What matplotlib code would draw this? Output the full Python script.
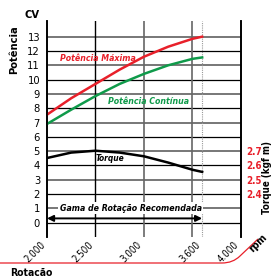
import matplotlib
matplotlib.use("Agg")
import matplotlib.pyplot as plt
from matplotlib.path import Path
from matplotlib.patches import PathPatch

plt.rcParams['font.family'] = ['DejaVu Sans']
plt.rcParams['font.stretch'] = 'condensed'

# data
rpm = [2000, 2250, 2500, 2750, 3000, 3250, 3500, 3600]
pot_max = [7.55, 8.7, 9.7, 10.7, 11.6, 12.3, 12.85, 13.0]
pot_cont = [6.9, 7.9, 8.85, 9.7, 10.4, 11.0, 11.45, 11.55]
torque = [2.652, 2.69, 2.703, 2.69, 2.664, 2.62, 2.57, 2.555]
cv_ticks = list(range(0, 14))
torque_ticks = [2.4, 2.5, 2.6, 2.7]
rpm_ticks = [2000, 2500, 3000, 3600, 4000]
rpm_labels = ['2.000', '2.500', '3.000', '3.600', '4.000']

fig = plt.figure(figsize=(2.72, 2.77), dpi=100)
ax = fig.add_axes([0.1728, 0.1444, 0.713, 0.780])
ax.set_xlim(2000, 4000)
ax.set_ylim(-1, 14.1)

# grid lines
for v in range(0, 14):
    if v % 2 == 0:
        ax.axhline(v, color='black', lw=0.9, zorder=1)
    else:
        ax.axhline(v, color='#777777', lw=1.4, zorder=1)
ax.axvline(2500, color='black', lw=1.0, zorder=1)
ax.axvline(3000, color='#666666', lw=1.2, zorder=1)
ax.axvline(3500, color='#666666', lw=1.2, zorder=1)
ax.axvline(3600, color='#999999', lw=0.8, ls=(0, (1, 1)), zorder=1)

ax.plot(rpm, pot_max, color='#e8202a', lw=1.8, zorder=3)
ax.plot(rpm, pot_cont, color='#0f9a4a', lw=1.8, zorder=3)

ax2 = ax.twinx()
ax2.set_ylim(2.2 - 0.1, 2.2 + 1.41)
ax2.plot(rpm, torque, color='black', lw=1.8, zorder=3)
ax2.set_yticks(torque_ticks)
ax2.set_yticklabels([f'{t:.1f}' for t in torque_ticks], color='#e8202a',
                    fontsize=7, fontweight='bold')
ax2.tick_params(axis='y', length=0, pad=4)
for a in (ax, ax2):
    a.spines['top'].set_visible(False)
    a.spines['bottom'].set_visible(False)
    a.spines['left'].set_linewidth(1.2)
    a.spines['right'].set_linewidth(1.2)

ax.set_yticks(cv_ticks)
ax.set_yticklabels([str(v) for v in cv_ticks], fontsize=8)
ax.tick_params(axis='y', length=0, pad=5)
ax.set_xticks(rpm_ticks)
ax.set_xticklabels(rpm_labels, rotation=45, ha='right', fontsize=7)
ax.tick_params(axis='x', length=0, pad=2)

# labels in the plot
ax.text(2130, 11.5, 'Potência Máxima', color='#e8202a', fontsize=6.3,
        fontweight='bold', style='italic', va='center', zorder=4)
ax.text(2630, 8.5, 'Potência Contínua', color='#0f9a4a', fontsize=6.3,
        fontweight='bold', style='italic', va='center', zorder=4)
ax.text(2500, 4.5, 'Torque', color='black', fontsize=6,
        fontweight='bold', style='italic', va='center', zorder=4)
ax.text(2130, 1, 'Gama de Rotação Recomendada', color='black', fontsize=6.3,
        fontweight='bold', style='italic', va='center', zorder=4,
        bbox=dict(facecolor='white', edgecolor='none', pad=1))
ax.annotate('', xy=(2000, 0.3), xytext=(3600, 0.3),
            arrowprops=dict(arrowstyle='<|-|>', color='black', lw=1.4,
                            mutation_scale=9, shrinkA=0, shrinkB=0), zorder=4)

fig.text(32 / 272, 1 - 15 / 277, 'CV', fontsize=8, fontweight='bold',
         ha='center', va='center')
fig.text(14 / 272, 1 - 50 / 277, 'Potência', fontsize=8, fontweight='bold',
         ha='center', va='center', rotation=90)
fig.text(267 / 272, 1 - 178 / 277, 'Torque (kgf m)', fontsize=7,
         fontweight='bold', ha='center', va='center', rotation=90)
fig.text(258 / 272, 1 - 243 / 277, 'rpm', fontsize=7.5, fontweight='bold',
         ha='center', va='center', rotation=45)
fig.text(10 / 272, 1 - 273 / 277, 'Rotacão', fontsize=7.5, fontweight='bold',
         ha='left', va='center')

# red baseline swoosh at bottom
verts = [(0, 1 - 263 / 277), (222 / 272, 1 - 263 / 277),
         (233 / 272, 1 - 263 / 277), (240 / 272, 1 - 256 / 277),
         (258 / 272, 1 - 239 / 277)]
codes = [Path.MOVETO, Path.LINETO, Path.CURVE3, Path.CURVE3, Path.LINETO]
fig.add_artist(PathPatch(Path(verts, codes), transform=fig.transFigure,
                         fill=False, edgecolor='#e8202a', lw=0.9))

fig.savefig('out.png', dpi=100)
